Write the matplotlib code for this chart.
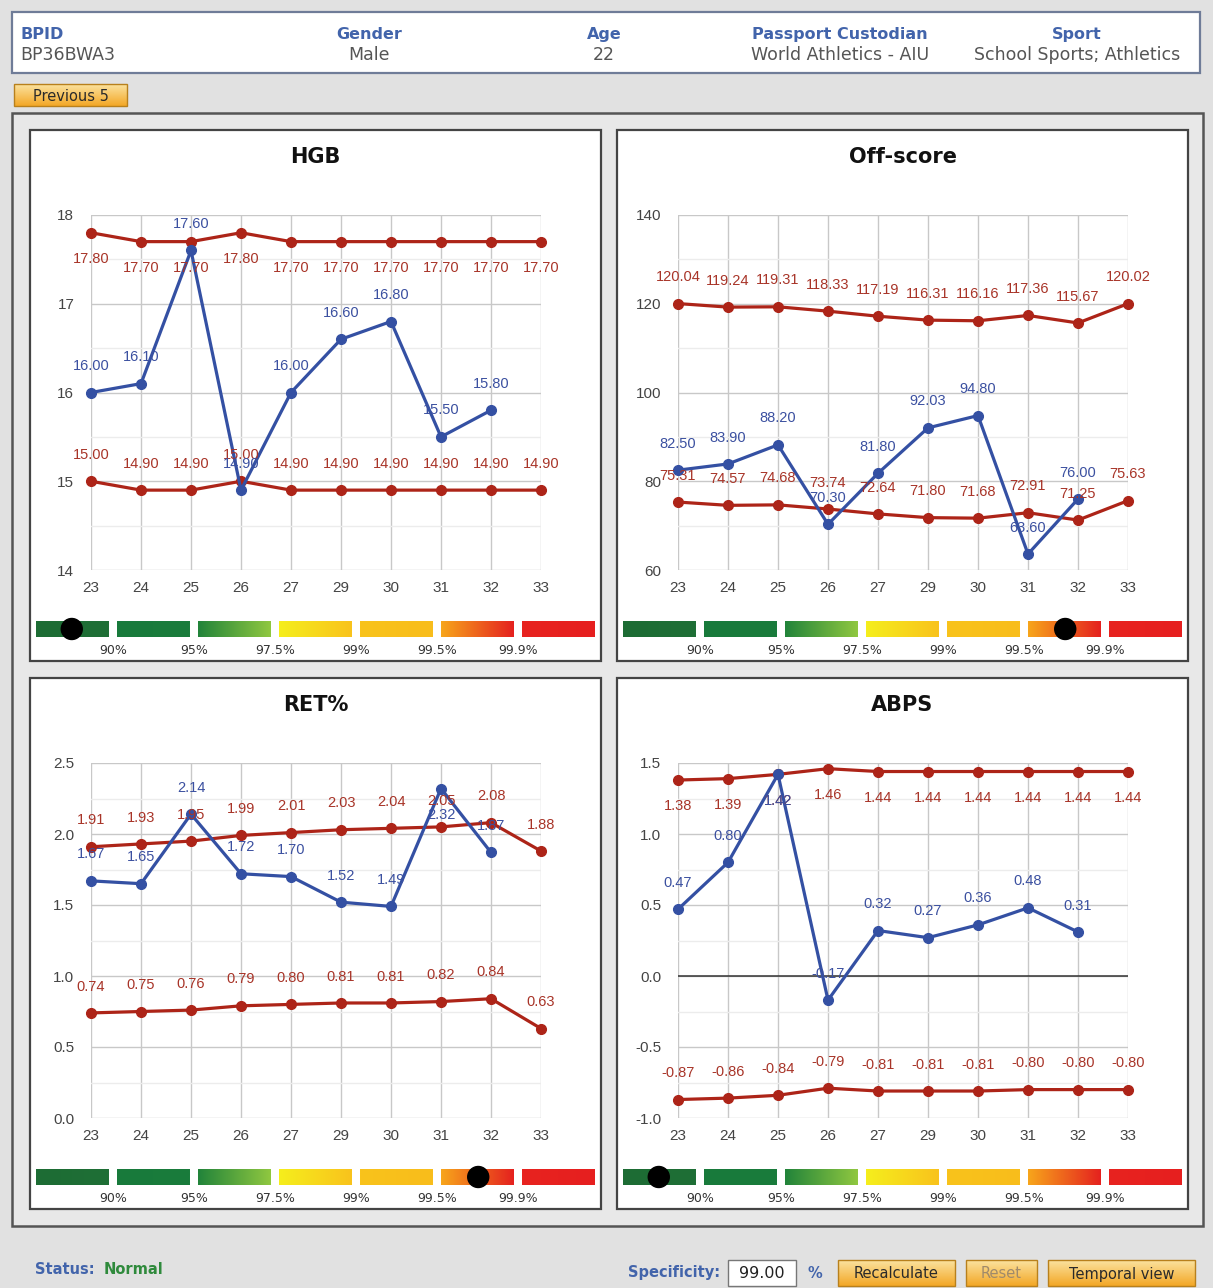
import numpy as np
import matplotlib
matplotlib.use('Agg')
import matplotlib.pyplot as plt
from matplotlib.patches import Rectangle, Circle
from matplotlib.colors import to_rgb

# sample collection ages, shared by all four charts
ages = ['23', '24', '25', '26', '27', '29', '30', '31', '32', '33']

hgb_upper = [17.80, 17.70, 17.70, 17.80, 17.70, 17.70, 17.70, 17.70, 17.70, 17.70]
hgb_lower = [15.00, 14.90, 14.90, 15.00, 14.90, 14.90, 14.90, 14.90, 14.90, 14.90]
hgb_vals = [16.00, 16.10, 17.60, 14.90, 16.00, 16.60, 16.80, 15.50, 15.80]

off_upper = [120.04, 119.24, 119.31, 118.33, 117.19, 116.31, 116.16, 117.36, 115.67, 120.02]
off_lower = [75.31, 74.57, 74.68, 73.74, 72.64, 71.80, 71.68, 72.91, 71.25, 75.63]
off_vals = [82.50, 83.90, 88.20, 70.30, 81.80, 92.03, 94.80, 63.60, 76.00]

ret_upper = [1.91, 1.93, 1.95, 1.99, 2.01, 2.03, 2.04, 2.05, 2.08, 1.88]
ret_lower = [0.74, 0.75, 0.76, 0.79, 0.80, 0.81, 0.81, 0.82, 0.84, 0.63]
ret_vals = [1.67, 1.65, 2.14, 1.72, 1.70, 1.52, 1.49, 2.32, 1.87]

abps_upper = [1.38, 1.39, 1.42, 1.46, 1.44, 1.44, 1.44, 1.44, 1.44, 1.44]
abps_lower = [-0.87, -0.86, -0.84, -0.79, -0.81, -0.81, -0.81, -0.80, -0.80, -0.80]
abps_vals = [0.47, 0.80, 1.42, -0.17, 0.32, 0.27, 0.36, 0.48, 0.31]

# specificity scale under each chart
spec_labels = ['90%', '95%', '97.5%', '99%', '99.5%', '99.9%']
# marker position on that scale, in segment units
hgb_spec, off_spec, ret_spec, abps_spec = 0.49, 5.51, 5.51, 0.49

W, H = 1213, 1288
RED = '#ad2418'
RED_TXT = '#a83428'
BLUE = '#3450a3'
BLUE_TXT = '#3b50a0'
HEAD_BLUE = '#4264ab'

fig = plt.figure(figsize=(W / 100, H / 100), dpi=100)
fig.patch.set_facecolor('#e1e1e1')
bg = fig.add_axes([0, 0, 1, 1])
bg.set_xlim(0, W)
bg.set_ylim(H, 0)
bg.axis('off')


def rect(x0, y0, x1, y1, fc, ec='none', lw=0, z=1):
    bg.add_patch(Rectangle((x0, y0), x1 - x0, y1 - y0, facecolor=fc,
                           edgecolor=ec, linewidth=lw, zorder=z))


def gradient(x0, y0, x1, y1, c0, c1, vertical=False, z=2):
    a, b = np.array(to_rgb(c0)), np.array(to_rgb(c1))
    t = np.linspace(0, 1, 64)[:, None]
    cols = a + (b - a) * t
    img = cols[:, None, :] if vertical else cols[None, :, :]
    bg.imshow(img, extent=(x0, x1, y1, y0), aspect='auto', zorder=z,
              interpolation='bilinear')


def button(x0, y0, x1, y1, label, faded=False):
    gradient(x0, y0, x1, y1, '#fbe3a0', '#f3a726', vertical=True, z=3)
    rect(x0, y0, x1, y1, 'none', '#b8801c', 1, z=4)
    bg.text((x0 + x1) / 2, (y0 + y1) / 2 + 1, label, ha='center', va='center',
            fontsize=10.5, color='#a08a6a' if faded else '#2a2a2a', zorder=5)


# header strip
rect(12, 12, 1200, 73, 'white', '#6f7c98', 1.6)
header = [('BPID', 'BP36BWA3', 20, 'left'),
          ('Gender', 'Male', 369, 'center'),
          ('Age', '22', 604, 'center'),
          ('Passport Custodian', 'World Athletics - AIU', 840, 'center'),
          ('Sport', 'School Sports; Athletics', 1077, 'center')]
for key, val, x, ha in header:
    bg.text(x, 34, key, ha=ha, va='center', fontsize=11.5, fontweight='bold', color=HEAD_BLUE)
    bg.text(x, 55, val, ha=ha, va='center', fontsize=12.5, color='#555555')

button(14, 84, 127, 106, 'Previous 5')

# outer frame holding the four charts
rect(12, 113, 1203, 1226, '#e8e8e8', '#555555', 1.8)

panels = [
    dict(title='HGB', px=30, py=130, up=hgb_upper, lo=hgb_lower, val=hgb_vals,
         ylim=(14, 18), step=1.0, fmt='{:.0f}', spec=hgb_spec,
         up_side=-1, lo_side=1, val_flip=[]),
    dict(title='Off-score', px=617, py=130, up=off_upper, lo=off_lower, val=off_vals,
         ylim=(60, 140), step=20.0, fmt='{:.0f}', spec=off_spec,
         up_side=1, lo_side=1, val_flip=[]),
    dict(title='RET%', px=30, py=678, up=ret_upper, lo=ret_lower, val=ret_vals,
         ylim=(0.0, 2.5), step=0.5, fmt='{:.1f}', spec=ret_spec,
         up_side=1, lo_side=1, val_flip=[7]),
    dict(title='ABPS', px=617, py=678, up=abps_upper, lo=abps_lower, val=abps_vals,
         ylim=(-1.0, 1.5), step=0.5, fmt='{:.1f}', spec=abps_spec,
         up_side=-1, lo_side=1, val_flip=[2]),
]

seg_cols = [('#1d6c34', '#1f6f36'), ('#187a3b', '#1a7c3c'), ('#22843a', '#8fc740'),
            ('#f5ee1c', '#f9c31c'), ('#f9c31b', '#f8bd1c'), ('#f7a51b', '#e5221f'),
            ('#e8231f', '#e61f1f')]

for p in panels:
    px, py = p['px'], p['py']
    rect(px, py, px + 571, py + 531, 'white', '#444444', 1.6)
    bg.text(px + 285.5, py + 27, p['title'], ha='center', va='center',
            fontsize=15, fontweight='bold', color='#111111')

    # chart area in pixels
    x0, x1 = px + 61, px + 511
    y0, y1 = py + 85, py + 440
    ax = fig.add_axes([x0 / W, 1 - y1 / H, (x1 - x0) / W, (y1 - y0) / H])
    ax.set_facecolor('white')
    for s in ax.spines.values():
        s.set_visible(False)
    lo_lim, hi_lim = p['ylim']
    xs = np.arange(len(ages))
    ax.set_xlim(0, len(ages) - 1)
    ax.set_ylim(lo_lim, hi_lim)
    ax.set_xticks(xs)
    ax.set_xticklabels(ages)
    major = np.arange(lo_lim, hi_lim + 1e-9, p['step'])
    ax.set_yticks(major)
    ax.set_yticklabels([p['fmt'].format(v) for v in major])
    ax.set_yticks(np.arange(lo_lim, hi_lim + 1e-9, p['step'] / 2), minor=True)
    ax.tick_params(which='both', length=0)
    ax.tick_params(axis='x', pad=8, labelsize=11, labelcolor='#444444')
    ax.tick_params(axis='y', pad=12, labelsize=11, labelcolor='#444444')
    for lab in ax.get_xticklabels() + ax.get_yticklabels():
        lab.set_family('Liberation Sans')
    ax.grid(axis='x', color='#c8c8c8', lw=1)
    ax.grid(axis='y', which='major', color='#c8c8c8', lw=1)
    ax.grid(axis='y', which='minor', color='#ececec', lw=1)
    ax.set_axisbelow(True)
    if lo_lim < 0 < hi_lim:
        ax.axhline(0, color='#333333', lw=1.1, zorder=1)

    vx = np.arange(len(p['val']))
    ax.plot(xs, p['up'], color=RED, lw=2.3, marker='o', ms=7, clip_on=False, zorder=3)
    ax.plot(xs, p['lo'], color=RED, lw=2.3, marker='o', ms=7, clip_on=False, zorder=3)
    ax.plot(vx, p['val'], color=BLUE, lw=2.3, marker='o', ms=7, clip_on=False, zorder=4)

    def labels(xv, yv, side, col, flip=()):
        for i, (xx, yy) in enumerate(zip(xv, yv)):
            s = -side if i in flip else side
            ax.annotate(f'{yy:.2f}', (xx, yy), xytext=(0, 19 * s),
                        textcoords='offset points', ha='center', va='center',
                        fontsize=10.5, family='Liberation Sans', color=col,
                        annotation_clip=False, zorder=6)

    labels(xs, p['up'], p['up_side'], RED_TXT)
    labels(xs, p['lo'], p['lo_side'], RED_TXT)
    labels(vx, p['val'], 1, BLUE_TXT, p['val_flip'])

    # specificity scale
    by0, by1 = py + 491, py + 507
    for k, (c0, c1) in enumerate(seg_cols):
        sx = px + 6 + k * 81
        gradient(sx, by0, sx + 73, by1, c0, c1)
    for k, lab in enumerate(spec_labels):
        bg.text(px + 83 + k * 81, py + 520, lab, ha='center', va='center',
                fontsize=9, color='#333333')
    seg = int(p['spec'])
    dot_x = px + 6 + seg * 81 + (p['spec'] - seg) * 73
    bg.add_patch(Circle((dot_x, py + 499), 10.5, color='black', zorder=5))

# footer
bg.text(35, 1270, 'Status:', ha='left', va='center', fontsize=10.5,
        fontweight='bold', color=HEAD_BLUE)
bg.text(104, 1270, 'Normal', ha='left', va='center', fontsize=10.5,
        fontweight='bold', color='#2f8a3c')
bg.text(720, 1273, 'Specificity:', ha='right', va='center', fontsize=10.5,
        fontweight='bold', color=HEAD_BLUE)
rect(728, 1260, 796, 1286, 'white', '#777777', 1)
bg.text(762, 1273, '99.00', ha='center', va='center', fontsize=11.5, color='#222222')
bg.text(815, 1273, '%', ha='center', va='center', fontsize=10.5,
        fontweight='bold', color=HEAD_BLUE)
button(838, 1260, 955, 1286, 'Recalculate')
button(966, 1260, 1037, 1286, 'Reset', faded=True)
button(1048, 1260, 1195, 1286, 'Temporal view')

fig.savefig('out.png', dpi=100, facecolor=fig.get_facecolor())
